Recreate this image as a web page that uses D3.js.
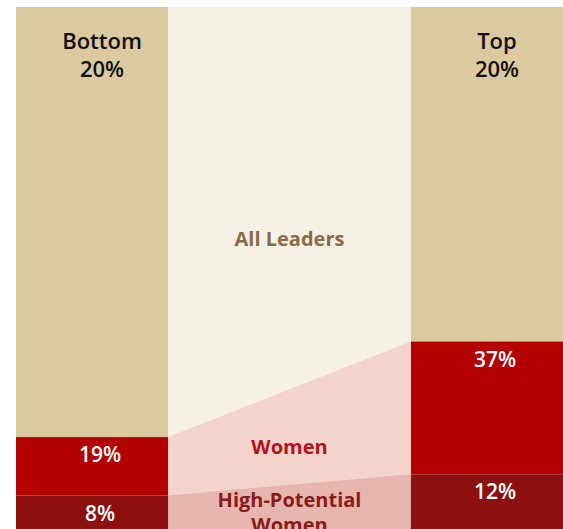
<!DOCTYPE html>
<html>
<head>
<meta charset="utf-8">
<script src="https://cdn.jsdelivr.net/npm/d3@7"></script>
<style>
  html, body { margin: 0; padding: 0; background: #fff; }
  svg { display: block; }
  text { font-family: "Open Sans", Lato, sans-serif; }
</style>
</head>
<body>
<div id="chart"></div>
<script>
// groups and shares (women share includes the high-potential women)
const groups = ["Bottom", "Top"];
const groupSub = ["20%", "20%"];
const allLeaders = [100, 100];
const women = [19, 37];
const hpWomen = [8, 12];
const bandLabels = ["All Leaders", "Women", "High-Potential\nWomen"];

const W = 563, H = 529;
const colors = {
    tan: "#dbcaa0", red: "#b30000", dark: "#8b100e",
    cream: "#f6f1e5", pink: "#f4d3cc", hpPink: "#e6b6ae"
};

const svg = d3.select("#chart").append("svg").attr("width", W).attr("height", H);

const x = d3.scaleBand().domain(groups).range([16, 563]).paddingInner(0.615).paddingOuter(0);
const y = d3.scaleLinear().domain([0, 100]).range([538, 7]);

const rows = groups.map((g, i) => ({ g, sub: groupSub[i], all: allLeaders[i], women: women[i], hp: hpWomen[i] }));

// connecting areas between the two bars
const gapX0 = x(groups[0]) + x.bandwidth();
const gapX1 = x(groups[1]);
const area = d3.area().x((d, i) => i === 0 ? gapX0 : gapX1).y0(y(0));
const flows = [
    { key: "all", fill: colors.cream },
    { key: "women", fill: colors.pink },
    { key: "hp", fill: colors.hpPink }
];
svg.selectAll("path.flow").data(flows).join("path")
    .attr("class", "flow")
    .attr("fill", d => d.fill)
    .attr("d", d => area.y1(r => y(r[d.key]))(rows));

// stacked bars
const segs = [];
rows.forEach(r => {
    segs.push({ g: r.g, y0: r.women, y1: r.all, fill: colors.tan });
    segs.push({ g: r.g, y0: r.hp, y1: r.women, fill: colors.red, label: r.women + "%" });
    segs.push({ g: r.g, y0: 0, y1: r.hp, fill: colors.dark, label: r.hp + "%" });
});
svg.selectAll("rect.seg").data(segs).join("rect")
    .attr("class", "seg")
    .attr("x", d => x(d.g))
    .attr("width", x.bandwidth())
    .attr("y", d => y(d.y1))
    .attr("height", d => y(d.y0) - y(d.y1))
    .attr("fill", d => d.fill);

// value labels
svg.selectAll("text.val").data(segs.filter(d => d.label)).join("text")
    .attr("class", "val")
    .attr("x", d => x(d.g) + x.bandwidth() / 2 + 8)
    .attr("y", d => y(d.y1) + 25)
    .attr("text-anchor", "middle")
    .attr("fill", "#fff")
    .style("font-size", "21px").style("font-weight", 600)
    .text(d => d.label);

// group titles
const title = svg.selectAll("text.title").data(rows).join("text")
    .attr("class", "title")
    .attr("text-anchor", "middle")
    .attr("fill", "#111")
    .style("font-size", "22px").style("font-weight", 600);
title.append("tspan").attr("x", d => x(d.g) + x.bandwidth() / 2 + 10).attr("y", 49).text(d => d.g);
title.append("tspan").attr("x", d => x(d.g) + x.bandwidth() / 2 + 10).attr("y", 77).text(d => d.sub);

// band labels in the gap
const mid = (gapX0 + gapX1) / 2;
const bandInfo = [
    { text: bandLabels[0], y: 246, fill: "#8b6a45" },
    { text: bandLabels[1], y: 454, fill: "#b5121b" },
    { text: bandLabels[2], y: 507, fill: "#8b1a1a" }
];
bandInfo.forEach(b => {
    const t = svg.append("text")
        .attr("text-anchor", "middle")
        .attr("fill", b.fill)
        .style("font-size", "20px").style("font-weight", 700);
    b.text.split("\n").forEach((line, i) => {
        t.append("tspan").attr("x", mid).attr("y", b.y + i * 25).text(line);
    });
});
</script>
</body>
</html>
